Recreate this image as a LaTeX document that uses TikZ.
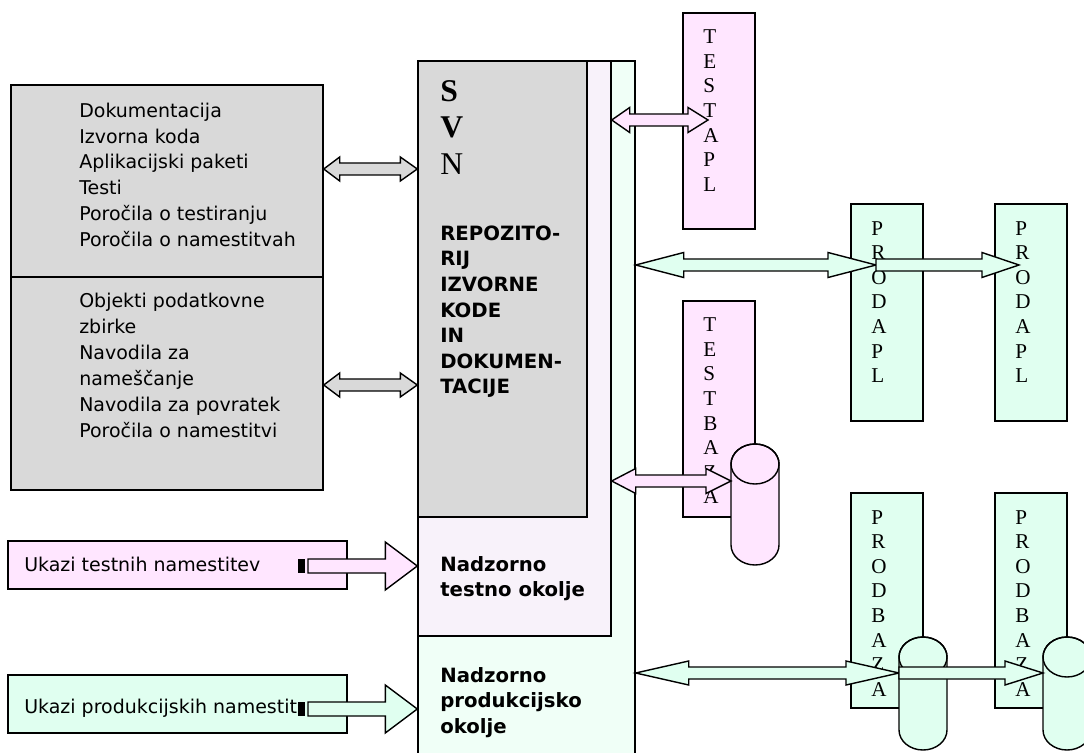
\documentclass[tikz,border=0pt]{standalone}
\usepackage{fontspec}
\setmainfont{Liberation Serif}
\newfontfamily\vfont{DejaVu Sans}
\usetikzlibrary{calc,fit}

\definecolor{svngray}{HTML}{D9D9D9}
\definecolor{testlav}{HTML}{F8F2FA}
\definecolor{prodfrm}{HTML}{F0FFF7}
\definecolor{testpink}{HTML}{FFE6FF}
\definecolor{prodmint}{HTML}{E0FFF0}

% block arrows (horizontal): fill, left end, right end, shaft half, head half, head lengths
\newcommand{\dblarrow}[7]{\draw[blk, fill=#1] (#2) -- ($(#2)+(#6,#5)$) -- ($(#2)+(#6,#4)$) -- ($(#3)+(-#7,#4)$) -- ($(#3)+(-#7,#5)$) -- (#3) -- ($(#3)+(-#7,-#5)$) -- ($(#3)+(-#7,-#4)$) -- ($(#2)+(#6,-#4)$) -- ($(#2)+(#6,-#5)$) -- cycle;}
\newcommand{\sglarrow}[6]{\draw[blk, fill=#1] ($(#2)+(0,#4)$) -- ($(#3)+(-#6,#4)$) -- ($(#3)+(-#6,#5)$) -- (#3) -- ($(#3)+(-#6,-#5)$) -- ($(#3)+(-#6,-#4)$) -- ($(#2)+(0,-#4)$) -- cycle;}
% database drum: fill, left x, top y, height
\newcommand{\drum}[4]{\draw[blk, fill=#1] (#2,#3+20) -- (#2,#3+#4-20) arc[start angle=180, end angle=0, x radius=24, y radius=20] -- (#2+48,#3+20) arc[start angle=0, end angle=-180, x radius=24, y radius=20] -- cycle;
  \draw[blk] (#2+24,#3+20) ellipse[x radius=24, y radius=20];}

\begin{document}
\begin{tikzpicture}[x=0.025cm, y=-0.025cm,
  blk/.style={line width=1pt, line join=miter},
  box/.style={draw, line width=1pt, inner sep=0pt},
  txt/.style={anchor=north west, align=left, inner sep=0pt, font=\vfont\fontsize{13.5}{18.4}\selectfont},
  bld/.style={txt, font=\vfont\bfseries\fontsize{14}{18.2}\selectfont},
  cmd/.style={anchor=base west, inner sep=0pt, font=\vfont\fontsize{13.5}{16}\selectfont},
  letters/.style={anchor=north west, align=left, inner sep=0pt, font=\fontsize{15}{17.5}\selectfont}]
  \clip (0,0) rectangle (1084,753);
  \fill[white] (0,0) rectangle (1084,753);

  %%%%% environments %%%%%
  \node[box, fill=prodfrm, fit={(418,61) (635,790)}] (prodenv) {};
  \node[box, fill=testlav, fit={(418,61) (611,636)}] (testenv) {};
  \node[box, fill=svngray, fit={(418,61) (587,517)}] (svn) {};

  \node[letters, font=\fontsize{22.5}{26}\selectfont] (svnname) at (440,80) {\textbf{S}\\\textbf{V}\\N};
  \node[bld] (svntext) at (440,225.5) {REPOZITO-\\RIJ\\IZVORNE\\KODE\\IN\\DOKUMEN-\\TACIJE};
  \node[bld] (testtext) at (440,556) {Nadzorno\\testno okolje};
  \node[bld] (prodtext) at (440,667) {Nadzorno\\produkcijsko\\okolje};

  %%%%% contents %%%%%
  \node[box, fill=svngray, fit={(11,85) (323,277)}] (docs1) {};
  \node[box, fill=svngray, fit={(11,277) (323,490)}] (docs2) {};
  \node[txt] (docs1text) at (79,102.5) {Dokumentacija\\Izvorna koda\\Aplikacijski paketi\\Testi\\Poročila o testiranju\\Poročila o namestitvah};
  \node[txt] (docs2text) at (79,293) {Objekti podatkovne\\zbirke\\Navodila za\\nameščanje\\Navodila za povratek\\Poročila o namestitvi};

  \dblarrow{svngray}{docs1.east |- 0,169}{svn.west |- 0,169}{6}{12}{16}{17}
  \dblarrow{svngray}{docs2.east |- 0,385}{svn.west |- 0,385}{6}{12}{16}{17}

  %%%%% commands %%%%%
  \node[box, fill=testpink, fit={(8,541) (347,589)}] (tcmd) {};
  \node[box, fill=prodmint, fit={(8,675) (347,733)}] (pcmd) {};
  \node[cmd] (tcmdtext) at (24,571.5) {Ukazi testnih namestitev};
  \node[cmd] (pcmdtext) at (24,713) {Ukazi produkcijskih namestit};

  \coordinate (tcmdout) at (308,566);
  \coordinate (pcmdout) at (308,709);
  \fill (298,559) rectangle (305,573);
  \sglarrow{testpink}{tcmdout}{svn.west |- tcmdout}{7}{24}{32}
  \fill (298,702) rectangle (305,716);
  \sglarrow{prodmint}{pcmdout}{prodenv.west |- pcmdout}{7}{24}{32}

  %%%%% servers %%%%%
  \node[box, fill=testpink, fit={(683,13) (755,229)}] (tapl) {};
  \node[box, fill=testpink, fit={(683,301) (755,517)}] (tbaza) {};
  \node[box, fill=prodmint, fit={(851,204) (923,421)}] (papl1) {};
  \node[box, fill=prodmint, fit={(995,204) (1067,421)}] (papl2) {};
  \node[box, fill=prodmint, fit={(851,493) (923,708)}] (pbaza1) {};
  \node[box, fill=prodmint, fit={(995,493) (1067,708)}] (pbaza2) {};

  \node[letters] (tapltext) at (703,29.5) {T\\E\\S\\T\\A\\P\\L};
  \node[letters] (tbazatext) at (703,317.5) {T\\E\\S\\T\\B\\A\\Z\\A};
  \node[letters] (papl1text) at (871,221) {P\\R\\O\\D\\A\\P\\L};
  \node[letters] (papl2text) at (1015,221) {P\\R\\O\\D\\A\\P\\L};
  \node[letters] (pbaza1text) at (871,510) {P\\R\\O\\D\\B\\A\\Z\\A};
  \node[letters] (pbaza2text) at (1015,510) {P\\R\\O\\D\\B\\A\\Z\\A};

  \drum{testpink}{731}{444}{121}
  \drum{prodmint}{899}{637}{113}
  \drum{prodmint}{1043}{637}{113}

  \coordinate (taplin) at (708,120);
  \coordinate (tbazain) at (731,481);
  \coordinate (papl1in) at (876,265);
  \coordinate (papl2in) at (1019,265);
  \coordinate (pbaza1in) at (899,673);
  \coordinate (pbaza2in) at (1043,673);

  \dblarrow{testpink}{testenv.east |- taplin}{taplin}{6}{12.5}{18}{20}
  \dblarrow{testpink}{testenv.east |- tbazain}{tbazain}{6}{12.5}{24}{25}
  \dblarrow{prodmint}{prodenv.east |- papl1in}{papl1in}{6}{12.5}{48}{48}
  \sglarrow{prodmint}{papl1in}{papl2in}{6}{12.5}{37}
  \dblarrow{prodmint}{prodenv.east |- pbaza1in}{pbaza1in}{6}{12}{53}{53}
  \sglarrow{prodmint}{pbaza1in}{pbaza2in}{6}{12}{38}
\end{tikzpicture}
\end{document}
